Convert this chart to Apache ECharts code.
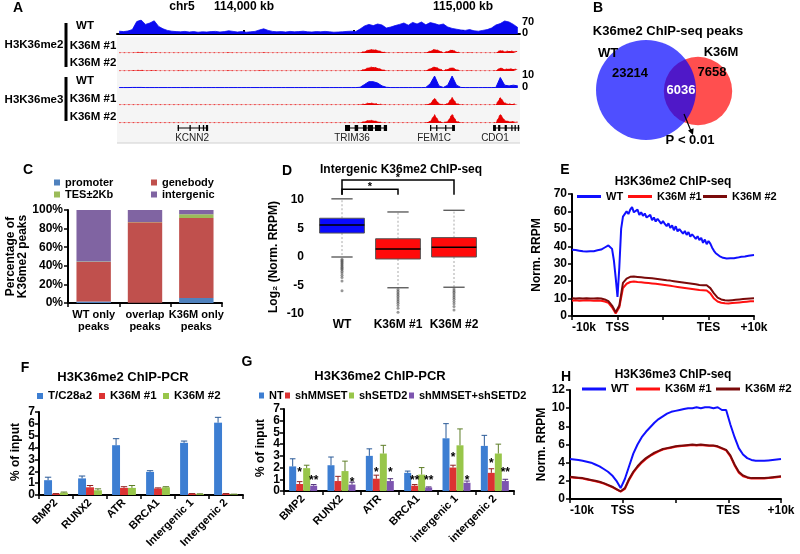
<!DOCTYPE html>
<html><head><meta charset="utf-8">
<script src="https://cdn.jsdelivr.net/npm/echarts@6/dist/echarts.min.js"></script>
<style>html,body{margin:0;padding:0;background:#fff}#c{width:800px;height:554px}</style>
</head><body><div id="c"></div>
<script>
// ================= DATA =================
// Panel A: genome browser tracks (chr5), 20-kb bins
const regionStartKb = 113420, regionEndKb = 115260, binSizeKb = 20;
const rulerTicksKb = [113500, 114000, 114500, 115000];
const rulerLabelsKb = [114000, 115000];
const me2WT = [14,12,15,22,62,70,48,55,66,38, 26,18,14,12,11,13,10,12,9,11, 10,12,13,10,12,16,13,10,12,9, 11,13,20,26,18,13,11,12,10,13, 11,12,14,11,10,12,11,13,11,9, 10,11,13,14,12,25,40,48,42,50, 45,30,35,42,48,55,44,58,50,60, 46,57,52,45,50,35,28,24,20,18, 22,16,14,18,22,30,45,52,65,60, 48,32];
const me2K36M1 = [1,1,1,1,3,4,1,1,3,1, 1,1,1,1,1,1,1,1,1,1, 1,1,1,1,1,2,1,1,1,1, 1,1,1,2,1,1,1,1,1,1, 1,1,1,1,1,1,1,1,1,1, 1,1,1,1,1,2,8,16,17,14, 6,2,1,1,2,1,2,1,2,1, 2,10,19,12,2,9,16,6,1,1, 2,1,1,1,1,1,1,14,8,10, 9,7];
const me2K36M2 = [1,1,1,2,3,4,1,2,3,1, 1,1,1,1,2,1,1,1,1,1, 1,1,1,1,1,2,1,1,1,1, 1,1,2,2,1,1,1,1,1,1, 1,1,1,1,1,1,1,1,1,1, 1,1,1,1,1,2,9,18,20,15, 7,2,1,1,2,1,2,1,2,1, 2,12,21,13,3,10,18,7,1,1, 2,1,1,1,1,1,2,16,9,11, 10,8];
const me3WT = [0.3,0.3,0.3,0.4,0.4,0.4,0.3,0.3,0.3,0.3, 0.3,0.3,0.3,0.3,0.3,0.3,0.3,0.3,0.3,0.3, 0.3,0.3,0.3,0.3,0.3,0.3,0.3,0.3,0.3,0.3, 0.3,0.3,0.3,0.3,0.3,0.3,0.3,0.3,0.3,0.3, 0.3,0.3,0.3,0.3,0.3,0.3,0.3,0.3,0.3,0.3, 0.3,0.3,0.3,0.3,0.3,0.5,2.5,4.5,4.5,3.5, 1.5,0.5,0.3,0.3,0.3,0.3,0.3,0.3,0.3,0.3, 0.4,3,8.5,1.5,0.4,2,8.5,2,0.4,0.3, 0.3,0.3,0.3,0.3,0.3,0.3,0.4,7.5,2,1.5, 2,1.5];
const me3K36M1 = [0.2,0.2,0.2,0.2,0.2,0.2,0.2,0.2,0.2,0.2, 0.2,0.2,0.2,0.2,0.2,0.2,0.2,0.2,0.2,0.2, 0.2,0.2,0.2,0.2,0.2,0.2,0.2,0.2,0.2,0.2, 0.2,0.2,0.2,0.2,0.2,0.2,0.2,0.2,0.2,0.2, 0.2,0.2,0.2,0.2,0.2,0.2,0.2,0.2,0.2,0.2, 0.2,0.2,0.2,0.2,0.2,0.3,0.8,1.5,1.2,0.8, 0.4,0.2,0.2,0.2,0.2,0.2,0.2,0.2,0.2,0.2, 0.3,1,5,1,0.3,1,5.5,1,0.3,0.2, 0.2,0.2,0.2,0.2,0.2,0.2,0.3,5.5,1.5,0.8, 0.8,0.5];
const me3K36M2 = [0.2,0.2,0.2,0.2,0.2,0.2,0.2,0.2,0.2,0.2, 0.2,0.2,0.2,0.2,0.2,0.2,0.2,0.2,0.2,0.2, 0.2,0.2,0.2,0.2,0.2,0.2,0.2,0.2,0.2,0.2, 0.2,0.2,0.2,0.2,0.2,0.2,0.2,0.2,0.2,0.2, 0.2,0.2,0.2,0.2,0.2,0.2,0.2,0.2,0.2,0.2, 0.2,0.2,0.2,0.2,0.2,0.3,1,2,1.8,1, 0.4,0.2,0.2,0.2,0.2,0.2,0.2,0.2,0.2,0.2, 0.3,1.2,6,1.2,0.3,1.2,6.5,1.2,0.3,0.2, 0.2,0.2,0.2,0.2,0.2,0.2,0.3,6.5,2,1, 1,0.6];
const trackNames = ['WT','K36M #1','K36M #2','WT','K36M #1','K36M #2'];
const geneNames = ['KCNN2','TRIM36','FEM1C','CDO1'];
const geneStartKb = [113697, 114461, 114849, 115137];
const geneEndKb = [113836, 114653, 114963, 115258];
const geneLabelKb = [113763, 114493, 114868, 115146];
const geneExonsKb = [
  [[113697,113701],[113751,113755],[113793,113797],[113812,113818],[113826,113836]],
  [[114461,114484],[114505,114521],[114543,114560],[114565,114589],[114598,114626],[114638,114653]],
  [[114849,114853],[114877,114881],[114918,114922],[114950,114963]],
  [[115137,115150],[115160,115170],[115190,115200],[115220,115225],[115235,115240],[115250,115256]]
];
// Panel B: Venn
const vennOnlyWT = 23214, vennOnlyK36M = 7658, vennOverlap = 6036;
// Panel C
const categoriesC = ['WT only\npeaks','overlap\npeaks','K36M only\npeaks'];
const cPromoter = [1.5, 0.3, 5.5];
const cGenebody = [42.5, 86.5, 86];
const cTES = [0.7, 0.2, 4];
const cIntergenic = [55.3, 13, 4.5];
// Panel D
const categoriesD = ['WT','K36M #1','K36M #2'];
const boxLow = [0, -5.4, -5.3];
const boxQ1 = [4.2, -0.35, 0];
const boxMed = [5.6, 1.4, 1.7];
const boxQ3 = [6.8, 3.2, 3.4];
const boxHigh = [10.2, 7.9, 8.2];
const outWT = [-0.4,-0.6,-0.8,-1.0,-1.2,-1.4,-1.6,-1.8,-2.0,-2.2,-2.5,-2.8,-3.2,-3.6,-4.2,-5.9];
const outK36M1 = [-5.7,-6.0,-6.3,-6.6,-6.9,-7.2,-7.5,-7.8,-8.1,-8.5,-9.0,-9.7];
const outK36M2 = [-5.6,-5.9,-6.2,-6.5,-6.8,-7.1,-7.4,-7.8,-8.2,-8.7,-9.3];
const sigPairs = [[0,1],[0,2]];
const sigLevels = [11.9, 13.5];
const sigLabels = ['*','*'];
// Panel E (profile, -10k .. TSS .. TES .. +10k scaled 0..100)
const eWT = [38,37.6,37.9,37.3,37.5,37.6,37.1,37.2,37.0,36.9, 37.2,37.1,37.2,37.5,37.7,37.8,38.1,38.7,39.3,39.9, 40.5,40.8,38.5,32,22,11,28,50,57,58, 60,58.5,61,62.5,59.5,60.5,61,58,59.5,57.5, 58.8,56.5,57.2,58,55,56.5,54.2,55.8,55,53, 54.5,52.8,51.5,53.2,50.5,52,49.2,51.5,48.5,49.8, 50.6,47.2,48.8,46.5,48.2,45.5,46.9,47.5,44.2,45.8, 43.5,44.8,42,43.9,41.2,43,41.5,39.2,37.4,36, 35.2,34.4,33.9,33.4,33.3,33,33.2,33.1,33.4,33.2, 33.6,33.5,33.9,34,34.1,34.2,34.5,34.6,34.6,34.9, 35];
const eK36M1 = [8.8,9.0,8.7,8.9,9.0,8.9,8.8,8.9,8.8,8.3, 7.5,5.0,1.5,5.0,16.0,18.5,19.5,19.8,19.5,19.3, 19.1,18.9,18.7,18.5,18.2,17.9,17.6,17.3,17.0,16.7, 16.4,16.1,15.8,15.5,15.2,14.9,14.8,14.6,13.0,10.0, 8.3,7.6,7.3,7.2,7.4,7.6,7.8,8.0,8.2,8.4, 8.5];
const eK36M2 = [10.2,10.1,10.2,10.0,10.2,10.1,10.1,10.2,10.0,9.5, 8.5,6.0,2.2,6.0,19.0,21.5,22.5,22.6,22.4,22.2, 22.0,21.8,21.6,21.4,21.1,20.8,20.5,20.3,20.0,19.7, 19.4,19.1,18.8,18.5,18.2,17.8,17.7,17.6,16.0,13.0, 10.5,9.5,9.0,8.9,9.1,9.3,9.5,9.7,9.9,10.1, 10.2];
// Panel H
const hWT = [4.4,4.35,4.3,4.2,4.1,4.0,3.8,3.6,3.3,3.0, 2.6,2.0,1.2,2.2,3.6,5.0,6.0,6.8,7.4,7.9, 8.4,8.8,9.1,9.4,9.6,9.7,9.8,9.9,10.0,10.0, 10.1,10.0,10.1,10.1,10.0,10.1,9.8,9.8,8.2,6.8, 5.6,4.9,4.5,4.3,4.2,4.2,4.2,4.25,4.3,4.35, 4.4];
const hK36M1 = [2.4,2.35,2.3,2.25,2.15,2.05,1.95,1.85,1.7,1.5, 1.3,1.05,0.8,1.1,2.1,2.9,3.5,4.0,4.4,4.75, 5.0,5.25,5.45,5.55,5.65,5.75,5.8,5.85,5.9,5.95, 5.9,5.95,5.9,5.85,5.85,5.75,5.55,5.35,4.7,3.7, 2.9,2.5,2.35,2.25,2.25,2.25,2.25,2.3,2.35,2.4, 2.45];
const hK36M2 = [2.45,2.4,2.35,2.3,2.2,2.1,2.0,1.9,1.75,1.55, 1.35,1.1,0.85,1.2,2.2,3.0,3.6,4.1,4.5,4.8, 5.1,5.3,5.5,5.6,5.7,5.8,5.85,5.9,5.95,6.0, 5.95,6.0,5.95,5.9,5.9,5.8,5.6,5.4,4.8,3.8, 3.0,2.6,2.4,2.3,2.3,2.3,2.3,2.35,2.4,2.45, 2.5];
const hTickLabels = [0, 2, 4, 6, 8, 10, 12];
const profileTickLabels = {0:'-10k', 25:'TSS', 50:'', 75:'TES', 100:'+10k'};
// Panel F
const categoriesF = ['BMP2','RUNX2','ATR','BRCA1','Intergenic 1','Intergenic 2'];
const fTC28a2 = [1.25, 1.4, 4.2, 1.95, 4.4, 6.1];
const fTC28a2Err = [0.25, 0.2, 0.55, 0.1, 0.15, 0.45];
const fK36M1 = [0.1, 0.65, 0.6, 0.55, 0.1, 0.1];
const fK36M1Err = [0.02, 0.15, 0.1, 0.05, 0.02, 0.02];
const fK36M2 = [0.2, 0.4, 0.6, 0.65, 0.08, 0.05];
const fK36M2Err = [0.05, 0.12, 0.2, 0.05, 0.02, 0.02];
const barTickLabels = [0, 1, 2, 3, 4, 5, 6, 7];
// Panel G
const categoriesG = ['BMP2','RUNX2','ATR','BRCA1','intergenic 1','intergenic 2'];
const gNT = [2.1, 2.2, 3.0, 1.55, 4.5, 3.85];
const gNTErr = [0.65, 0.7, 0.6, 0.15, 1.25, 0.9];
const gMMSET = [0.6, 0.85, 1.05, 0.45, 2.0, 1.55];
const gMMSETErr = [0.2, 0.4, 0.3, 0.1, 0.2, 0.35];
const gSETD2 = [1.95, 1.7, 3.2, 1.4, 3.9, 3.2];
const gSETD2Err = [0.25, 0.85, 0.7, 0.6, 1.4, 0.8];
const gBoth = [0.45, 0.55, 0.85, 0.3, 0.7, 0.85];
const gBothErr = [0.1, 0.2, 0.2, 0.05, 0.15, 0.15];
const gStarsMMSET = ['*','','*','**','*','*'];
const gStarsMMSETY = [1.86, null, 1.86, 1.17, 3.14, 2.57];
const gStarsBoth = ['**','*','*','**','*','**'];
const gStarsBothY = [1.17, 1.0, 1.86, 1.17, 1.17, 1.86];

// ================= CHART =================
const FONT = "'Liberation Sans', Arial, 'DejaVu Sans', sans-serif";
const BOLD = {fontFamily: FONT, fontWeight: 'bold', color: '#000'};
const chart = echarts.init(document.getElementById('c'), null, {renderer: 'canvas', width: 800, height: 554});
const grids = [], xAxes = [], yAxes = [], series = [], legends = [], graphics = [];
function addGrid(g, xa, ya) {
  grids.push(g); const i = grids.length - 1;
  xa.gridIndex = i; ya.gridIndex = i; xAxes.push(xa); yAxes.push(ya); return i;
}
const strip = n => n.slice(n.indexOf(':') + 1);
function txt(x, y, text, o) {
  return {type: 'text', x, y, z: 50, style: Object.assign({text, fontFamily: FONT, fontWeight: 'bold', fontSize: 12, fill: '#000', align: 'center', verticalAlign: 'middle'}, o || {})};
}
function vtxt(x, y, text, o) {
  const t = txt(0, 0, text, o); t.x = x; t.y = y; t.rotation = Math.PI / 2; return t;
}
function legendItem(name, left, top, opt, fs) {
  legends.push(Object.assign({data: [{name}], left, top, padding: 0, itemGap: 0, selectedMode: false,
    formatter: strip, textStyle: {fontFamily: FONT, fontWeight: 'bold', fontSize: fs || 12, color: '#000'}}, opt));
}
const blackLine = {show: true, lineStyle: {color: '#000', width: 2}};
const blackTick = {show: true, length: 4, lineStyle: {color: '#000', width: 1.5}};
const yLab = {showMaxLabel: true, showMinLabel: true, hideOverlap: false};

// ---------- Panel A ----------
const trackData = [me2WT, me2K36M1, me2K36M2, me3WT, me3K36M1, me3K36M2];
const trackMax = [70, 70, 70, 10, 10, 10];
const trackColor = ['#0a0af0', '#e80000', '#e80000', '#0a0af0', '#e80000', '#e80000'];
const trackTops = [20, 39, 57, 74, 91, 109];
graphics.push({type: 'rect', z: -10, shape: {x: 117, y: 37, width: 403, height: 106}, style: {fill: '#f5f5f5'}});
graphics.push({type: 'line', z: -9, shape: {x1: 117, y1: 143, x2: 520, y2: 143}, style: {stroke: '#d0d0d0', lineWidth: 1}});
trackData.forEach((vals, t) => {
  const xa = t === 0 ? {
    type: 'value', min: regionStartKb, max: regionEndKb, position: 'top', offset: 4,
    axisLine: blackLine,
    axisTick: {show: true, customValues: rulerTicksKb, length: 4, lineStyle: {color: '#000', width: 2}},
    axisLabel: Object.assign({show: true, customValues: rulerLabelsKb, margin: 3, fontSize: 12,
      formatter: v => Number(v).toLocaleString('en-US') + ' kb'}, BOLD),
    splitLine: {show: false}
  } : {type: 'value', min: regionStartKb, max: regionEndKb, show: false};
  const gi = addGrid({left: 117, top: trackTops[t], width: 403, height: 14}, xa,
    {type: 'value', min: 0, max: trackMax[t], show: false});
  const red = trackColor[t] === '#e80000';
  series.push({type: 'line', name: 'A:' + trackNames[t] + t, xAxisIndex: gi, yAxisIndex: gi, symbol: 'none', silent: true,
    data: vals.map((v, i) => [regionStartKb + binSizeKb * (i + 0.5), v]),
    lineStyle: {color: trackColor[t], width: red ? 1 : (t === 3 ? 1 : 0.8), type: red ? [1.5, 3] : 'solid', opacity: red ? 0.8 : 1},
    areaStyle: {color: trackColor[t], opacity: 1}});
});
const gGene = addGrid({left: 117, top: 122, width: 403, height: 12},
  {type: 'value', min: regionStartKb, max: regionEndKb, show: false},
  {type: 'value', min: 0, max: 1, show: false});
series.push({type: 'custom', xAxisIndex: gGene, yAxisIndex: gGene, silent: true, clip: false,
  data: geneNames.map((n, i) => [geneStartKb[i], geneEndKb[i], i]),
  renderItem(params, api) {
    const i = api.value(2);
    const p0 = api.coord([api.value(0), 0.5]), p1 = api.coord([api.value(1), 0.5]);
    const ch = [{type: 'line', shape: {x1: p0[0], y1: p0[1], x2: p1[0], y2: p1[1]}, style: {stroke: '#000', lineWidth: 1}}];
    geneExonsKb[i].forEach(([s, e]) => {
      const a = api.coord([s, 0.5])[0], b = api.coord([e, 0.5])[0];
      ch.push({type: 'rect', shape: {x: a, y: p0[1] - 3, width: Math.max(1.3, b - a), height: 6}, style: {fill: '#000'}});
    });
    ch.push({type: 'text', x: api.coord([geneLabelKb[i], 0.5])[0], y: p0[1] + 10,
      style: {text: geneNames[i], fontFamily: FONT, fontSize: 10, fill: '#222', align: 'center', verticalAlign: 'middle'}});
    return {type: 'group', children: ch};
  }});
graphics.push(txt(18, 8, 'A', {fontSize: 14}));
graphics.push(txt(182, 7, 'chr5', {fontSize: 12}));
graphics.push(txt(34, 45, 'H3K36me2', {fontSize: 11.5}));
graphics.push(txt(34, 100, 'H3K36me3', {fontSize: 11.5}));
graphics.push({type: 'rect', z: 50, shape: {x: 64.5, y: 23, width: 3, height: 44}, style: {fill: '#000'}});
graphics.push({type: 'rect', z: 50, shape: {x: 64.5, y: 77, width: 3, height: 44}, style: {fill: '#000'}});
[[26,'WT'],[46,'K36M #1'],[63,'K36M #2'],[81,'WT'],[99,'K36M #1'],[117,'K36M #2']].forEach(([y, t]) =>
  graphics.push(txt(t === 'WT' ? 85 : 93, y, t, {fontSize: 11.5})));
[[22,'70'],[33,'0'],[75,'10'],[87,'0']].forEach(([y, t]) => graphics.push(txt(522, y, t, {fontSize: 11, align: 'left'})));

// ---------- Panel B (Venn) ----------
const kVenn = 50 / Math.sqrt(vennOnlyWT + vennOverlap);
const rWT = kVenn * Math.sqrt(vennOnlyWT + vennOverlap), rK = kVenn * Math.sqrt(vennOnlyK36M + vennOverlap);
graphics.push({type: 'circle', z: 20, shape: {cx: 698, cy: 91, r: rK}, style: {fill: 'rgba(255,0,0,0.69)'}});
graphics.push({type: 'circle', z: 21, shape: {cx: 646, cy: 90, r: rWT}, style: {fill: 'rgba(0,0,255,0.69)'}});
graphics.push(txt(598, 8, 'B', {fontSize: 14}));
graphics.push(txt(668, 31, 'K36me2 ChIP-seq peaks', {fontSize: 13}));
graphics.push(txt(608, 53, 'WT', {fontSize: 13}));
graphics.push(txt(721, 52, 'K36M', {fontSize: 13}));
graphics.push(txt(630, 73, String(vennOnlyWT), {fontSize: 13}));
graphics.push(txt(712, 72, String(vennOnlyK36M), {fontSize: 13}));
graphics.push(txt(681, 90, String(vennOverlap), {fontSize: 13, fill: '#fff'}));
graphics.push(txt(690, 140, 'P < 0.01', {fontSize: 13}));
graphics.push({type: 'line', z: 30, shape: {x1: 684, y1: 114, x2: 691, y2: 131}, style: {stroke: '#000', lineWidth: 1.2}});
graphics.push({type: 'polygon', z: 30, shape: {points: [[693, 135], [688, 130.5], [693.6, 128.3]]}, style: {fill: '#000'}});

// ---------- Panel C ----------
const gC = addGrid({left: 68, top: 210, width: 154, height: 93},
  {type: 'category', data: categoriesC, axisLine: blackLine, axisTick: blackTick,
    axisLabel: Object.assign({fontSize: 11, lineHeight: 12, margin: 6, interval: 0}, BOLD)},
  {type: 'value', min: 0, max: 100, interval: 20, axisLine: blackLine, axisTick: blackTick, splitLine: {show: false},
    axisLabel: Object.assign({formatter: '{value}%', fontSize: 12, margin: 5}, yLab, BOLD),
    name: 'Percentage of\nK36me2 peaks', nameLocation: 'middle', nameGap: 38,
    nameTextStyle: Object.assign({fontSize: 12, lineHeight: 12}, BOLD)});
[['C:promoter', cPromoter, '#4f81bd', 54, 177], ['C:genebody', cGenebody, '#c0504d', 151, 177],
 ['C:TES±2Kb', cTES, '#9bbb59', 54, 189], ['C:intergenic', cIntergenic, '#8064a2', 151, 189]].forEach(([n, d, c, lx, ly]) => {
  series.push({type: 'bar', name: n, stack: 'C', xAxisIndex: gC, yAxisIndex: gC, data: d, barCategoryGap: '33%', itemStyle: {color: c}});
  legendItem(n, lx, ly, {itemWidth: 6, itemHeight: 6, icon: 'rect'}, 11);
});
graphics.push(txt(28, 170, 'C', {fontSize: 14}));

// ---------- Panel D ----------
const gD = addGrid({left: 314, top: 200, width: 168, height: 114},
  {type: 'category', data: categoriesD, axisLine: {show: false}, axisTick: {show: false},
    axisLabel: Object.assign({fontSize: 12, margin: 5, interval: 0}, BOLD)},
  {type: 'value', min: -10, max: 10, interval: 5, axisLine: {show: false}, axisTick: {show: false}, splitLine: {show: false},
    axisLabel: Object.assign({fontSize: 12, margin: 10}, yLab, BOLD),
    name: 'Log\u2082 (Norm. RRPM)', nameLocation: 'middle', nameGap: 34,
    nameTextStyle: Object.assign({fontSize: 12}, BOLD)});
const boxColors = ['#0a0aff', '#ff0a0a', '#ff0a0a'];
series.push({type: 'custom', xAxisIndex: gD, yAxisIndex: gD, silent: true, z: 3,
  data: boxLow.map((l, i) => [i, l, boxQ1[i], boxMed[i], boxQ3[i], boxHigh[i]]),
  renderItem(params, api) {
    const i = api.value(0), band = api.size([1, 0])[0], cx = api.coord([i, 0])[0];
    const w = band * 0.8, cw = band * 0.38;
    const y = k => api.coord([i, api.value(k)])[1];
    const yl = y(1), yq1 = y(2), ym = y(3), yq3 = y(4), yh = y(5);
    return {type: 'group', children: [
      {type: 'line', shape: {x1: cx, y1: yq3, x2: cx, y2: yh}, style: {stroke: '#aaa', lineWidth: 1, lineDash: [2, 2]}},
      {type: 'line', shape: {x1: cx, y1: yq1, x2: cx, y2: yl}, style: {stroke: '#aaa', lineWidth: 1, lineDash: [2, 2]}},
      {type: 'line', shape: {x1: cx - cw / 2, y1: yh, x2: cx + cw / 2, y2: yh}, style: {stroke: '#444', lineWidth: 1.2}},
      {type: 'line', shape: {x1: cx - cw / 2, y1: yl, x2: cx + cw / 2, y2: yl}, style: {stroke: '#444', lineWidth: 1.2}},
      {type: 'rect', shape: {x: cx - w / 2, y: yq3, width: w, height: yq1 - yq3}, style: {fill: boxColors[i], stroke: '#555', lineWidth: 1}},
      {type: 'line', shape: {x1: cx - w / 2, y1: ym, x2: cx + w / 2, y2: ym}, style: {stroke: '#000', lineWidth: 1.5}}
    ]};
  }});
series.push({type: 'scatter', xAxisIndex: gD, yAxisIndex: gD, silent: true, symbolSize: 3,
  itemStyle: {color: 'rgba(70,70,70,0.7)'},
  data: [].concat(outWT.map(v => [0, v]), outK36M1.map(v => [1, v]), outK36M2.map(v => [2, v]))});
series.push({type: 'custom', xAxisIndex: gD, yAxisIndex: gD, silent: true, clip: false,
  data: sigPairs.map((p, k) => [p[0], p[1], sigLevels[k], k]),
  renderItem(params, api) {
    const a = api.coord([api.value(0), api.value(2)]), b = api.coord([api.value(1), api.value(2)]);
    const leg = api.coord([0, 10.9])[1];
    return {type: 'group', children: [
      {type: 'polyline', shape: {points: [[a[0], leg], a, b, [b[0], leg]]}, style: {stroke: '#000', lineWidth: 1.5, fill: null}},
      {type: 'text', x: (a[0] + b[0]) / 2, y: a[1] + 3, style: {text: sigLabels[api.value(3)], fontFamily: FONT, fontWeight: 'bold', fontSize: 11, fill: '#000', align: 'center', verticalAlign: 'bottom'}}
    ]};
  }});
graphics.push(txt(287, 171, 'D', {fontSize: 14}));
graphics.push(txt(320, 170, 'Intergenic K36me2 ChIP-seq', {fontSize: 12, align: 'left'}));

// ---------- Panels E & H ----------
function profileGrid(grid, ymax, interval, name, gap, showYLabels) {
  return addGrid(grid,
    {type: 'value', min: 0, max: 100, interval: 25, axisLine: blackLine, axisTick: blackTick, splitLine: {show: false},
      axisLabel: Object.assign({fontSize: 12, margin: 6, alignMinLabel: 'left', showMaxLabel: true, showMinLabel: true, formatter: v => profileTickLabels[v] || ''}, BOLD)},
    {type: 'value', min: 0, max: ymax, interval, axisLine: blackLine, axisTick: blackTick, splitLine: {show: false},
      axisLabel: Object.assign({show: showYLabels, fontSize: 12, margin: 5}, yLab, BOLD),
      name, nameLocation: 'middle', nameGap: gap, nameTextStyle: Object.assign({fontSize: 12}, BOLD)});
}
function profileLine(p, name, gi, vals, color) {
  series.push({type: 'line', name: p + name, xAxisIndex: gi, yAxisIndex: gi, symbol: 'none', silent: true,
    data: vals.map((v, i) => [i * 100 / (vals.length - 1), v]), lineStyle: {color, width: 2}, itemStyle: {color}});
}
const cWT = '#1010ff', cK1 = '#ff1010', cK2 = '#7a0a0a';
const gE = profileGrid({left: 572, top: 194, width: 182, height: 122}, 70, 10, 'Norm. RRPM', 29, true);
profileLine('E:', 'WT', gE, eWT, cWT);
profileLine('E:', 'K36M #1', gE, eK36M1, cK1);
profileLine('E:', 'K36M #2', gE, eK36M2, cK2);
const lineLeg = {itemWidth: 24, itemHeight: 3, icon: 'rect'};
legendItem('E:WT', 577, 191, lineLeg, 11);
legendItem('E:K36M #1', 628, 191, lineLeg, 11);
legendItem('E:K36M #2', 703, 191, lineLeg, 11);
graphics.push(txt(565, 170, 'E', {fontSize: 14}));
graphics.push(txt(673, 182, 'H3K36me2 ChIP-seq', {fontSize: 12}));

const gH = profileGrid({left: 570, top: 390, width: 211, height: 109}, 12, 2, 'Norm. RRPM', 22, false);
profileLine('H:', 'WT', gH, hWT, cWT);
profileLine('H:', 'K36M #1', gH, hK36M1, cK1);
profileLine('H:', 'K36M #2', gH, hK36M2, cK2);
legendItem('H:WT', 582, 383, lineLeg, 11.5);
legendItem('H:K36M #1', 636, 383, lineLeg, 11.5);
legendItem('H:K36M #2', 716, 383, lineLeg, 11.5);
graphics.push(txt(566, 377, 'H', {fontSize: 14}));
graphics.push(txt(673, 375, 'H3K36me3 ChIP-seq', {fontSize: 12}));

// ---------- Panels F & G ----------
function barGrid(grid, cats) {
  return addGrid(grid,
    {type: 'category', data: cats, axisLine: blackLine, axisTick: blackTick,
      axisLabel: Object.assign({fontSize: 11, rotate: 45, margin: 6, interval: 0}, BOLD)},
    {type: 'value', min: 0, max: 7, interval: 1, axisLine: blackLine, axisTick: blackTick, splitLine: {show: false},
      axisLabel: {show: false}});
}
function errSeries(gi, vals, errs, k, n, gapFrac, color) {
  series.push({type: 'custom', xAxisIndex: gi, yAxisIndex: gi, silent: true, z: 5,
    data: vals.map((v, i) => [i, v, v + errs[i]]),
    renderItem(params, api) {
      const band = api.size([1, 0])[0], group = band * (1 - gapFrac), bw = group / n;
      const cx = api.coord([api.value(0), 0])[0] - group / 2 + bw * (k + 0.5);
      const y0 = api.coord([0, api.value(1)])[1], y1 = api.coord([0, api.value(2)])[1], cap = bw * 0.4;
      return {type: 'group', children: [
        {type: 'line', shape: {x1: cx, y1: y0, x2: cx, y2: y1}, style: {stroke: color, lineWidth: 1}},
        {type: 'line', shape: {x1: cx - cap, y1: y1, x2: cx + cap, y2: y1}, style: {stroke: color, lineWidth: 1}}]};
    }});
}
function starSeries(gi, texts, heights, k, n, gapFrac) {
  const d = [];
  texts.forEach((t, i) => { if (t && heights[i] != null) d.push([i, heights[i], i]); });
  series.push({type: 'custom', xAxisIndex: gi, yAxisIndex: gi, silent: true, z: 6, clip: false, data: d,
    renderItem(params, api) {
      const band = api.size([1, 0])[0], group = band * (1 - gapFrac), bw = group / n;
      const cx = api.coord([api.value(0), 0])[0] - group / 2 + bw * (k + 0.5);
      const y = api.coord([0, api.value(1)])[1];
      return {type: 'text', x: cx, y: y + 3, style: {text: texts[api.value(2)], fontFamily: FONT, fontWeight: 'bold', fontSize: 12, fill: '#000', align: 'center', verticalAlign: 'middle'}};
    }});
}
const colBlue = '#3d7ed2', colRed = '#dc3232', colGreen = '#98c64a', colPurple = '#7d55b0';
const gF = barGrid({left: 39, top: 412, width: 204, height: 83}, categoriesF);
[['F:T/C28a2', fTC28a2, fTC28a2Err, colBlue, '#2a5a98', 37], ['F:K36M #1', fK36M1, fK36M1Err, colRed, '#902020', 99], ['F:K36M #2', fK36M2, fK36M2Err, colGreen, '#5e7e28', 163]]
  .forEach(([n, v, e, c, ec, lx], k) => {
    series.push({type: 'bar', name: n, xAxisIndex: gF, yAxisIndex: gF, data: v, barGap: 0, barCategoryGap: '30%', itemStyle: {color: c}});
    errSeries(gF, v, e, k, 3, 0.30, ec);
    legendItem(n, lx, 390, {itemWidth: 6, itemHeight: 6, icon: 'rect'}, 11.5);
  });
graphics.push(txt(25, 368, 'F', {fontSize: 14}));
graphics.push(txt(123, 377, 'H3K36me2 ChIP-PCR', {fontSize: 13}));
graphics.push(vtxt(16, 452, '% of input', {fontSize: 12}));

const gG = barGrid({left: 284, top: 409, width: 230, height: 82}, categoriesG);
[['G:NT', gNT, gNTErr, colBlue, '#2a5a98', 259], ['G:shMMSET', gMMSET, gMMSETErr, colRed, '#902020', 285],
 ['G:shSETD2', gSETD2, gSETD2Err, colGreen, '#5e7e28', 349], ['G:shMMSET+shSETD2', gBoth, gBothErr, colPurple, '#50307a', 409]]
  .forEach(([n, v, e, c, ec, lx], k) => {
    series.push({type: 'bar', name: n, xAxisIndex: gG, yAxisIndex: gG, data: v, barGap: 0, barCategoryGap: '27%', itemStyle: {color: c}});
    errSeries(gG, v, e, k, 4, 0.27, ec);
    legendItem(n, lx, 390, {itemWidth: 5, itemHeight: 6, icon: 'rect'}, 11);
  });
starSeries(gG, gStarsMMSET, gStarsMMSETY, 1, 4, 0.27);
starSeries(gG, gStarsBoth, gStarsBothY, 3, 4, 0.27);
graphics.push(txt(247, 362, 'G', {fontSize: 14}));
graphics.push(txt(380, 376, 'H3K36me2 ChIP-PCR', {fontSize: 13}));
graphics.push(vtxt(261, 448, '% of input', {fontSize: 12}));

const option = {
  animation: false,
  backgroundColor: '#fff',
  grid: grids, xAxis: xAxes, yAxis: yAxes, series, legend: legends,
  graphic: {elements: graphics}
};
chart.setOption(option);

// y tick labels for F, G, H placed through the axes' own scales
const tickTexts = [];
[[gF, barTickLabels, 4], [gG, barTickLabels, 4], [gH, hTickLabels, 5]].forEach(([gi, ticks, margin]) => {
  ticks.forEach(v => {
    const p = chart.convertToPixel({gridIndex: gi}, [0, v]);
    const x0 = grids[gi].left - margin;
    tickTexts.push(txt(x0, p[1], String(v), {fontSize: 12, align: 'right'}));
  });
});
chart.setOption({graphic: {elements: graphics.concat(tickTexts)}});
</script></body></html>
